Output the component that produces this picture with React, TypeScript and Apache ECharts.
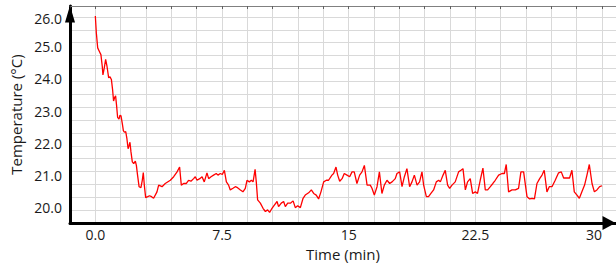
import React, { useEffect, useRef } from "react";
import * as echarts from "echarts";

const timeMin: number[] = [
  0, 0.06, 0.14, 0.24, 0.33, 0.41, 0.45, 0.53, 0.61, 0.69, 0.79, 0.87, 0.95, 1.02, 1.08, 1.14, 1.2, 1.26, 1.32, 1.4,
  1.46, 1.52, 1.6, 1.66, 1.72, 1.8, 1.87, 1.94, 2.0, 2.05, 2.11, 2.19, 2.27, 2.37, 2.43, 2.5, 2.59, 2.7, 2.78, 2.84,
  2.9, 2.98, 3.1, 3.21, 3.33, 3.45, 3.65, 3.75, 3.95, 4.14, 4.44, 4.64, 4.84, 4.99, 5.09, 5.23, 5.39, 5.52, 5.66, 5.82,
  5.92, 6.02, 6.18, 6.32, 6.45, 6.61, 6.71, 6.85, 7.0, 7.16, 7.26, 7.4, 7.52, 7.64, 7.76, 7.89, 7.99, 8.15, 8.29, 8.42,
  8.59, 8.74, 8.88, 8.98, 9.12, 9.24, 9.34, 9.46, 9.53, 9.61, 9.77, 9.93, 10.07, 10.2, 10.32, 10.46, 10.6, 10.76, 10.85, 11.01,
  11.15, 11.25, 11.39, 11.55, 11.71, 11.84, 11.98, 12.14, 12.3, 12.43, 12.63, 12.79, 12.93, 13.08, 13.22, 13.36, 13.52, 13.68, 13.81, 14.01,
  14.11, 14.25, 14.35, 14.47, 14.61, 14.74, 14.9, 15.06, 15.2, 15.33, 15.49, 15.65, 15.79, 15.93, 16.09, 16.28, 16.38, 16.52, 16.68, 16.82,
  16.97, 17.11, 17.27, 17.43, 17.57, 17.76, 17.86, 18.02, 18.16, 18.3, 18.45, 18.61, 18.75, 18.89, 19.05, 19.2, 19.34, 19.44, 19.6, 19.73,
  19.87, 20.03, 20.19, 20.33, 20.43, 20.59, 20.72, 20.86, 20.98, 21.12, 21.31, 21.51, 21.65, 21.77, 21.91, 22.04, 22.2, 22.34, 22.5, 22.63,
  22.79, 22.95, 23.09, 23.23, 23.39, 23.54, 23.68, 23.88, 24.08, 24.22, 24.33, 24.47, 24.67, 24.87, 25.06, 25.2, 25.36, 25.56, 25.72, 25.86,
  26.0, 26.15, 26.31, 26.45, 26.58, 26.74, 26.88, 27.04, 27.23, 27.43, 27.59, 27.73, 27.93, 28.08, 28.22, 28.36, 28.52, 28.66, 28.81, 28.97,
  29.11, 29.25, 29.41, 29.55, 29.7, 29.86, 30.0,
];

const temperature: number[] = [
  26.03, 25.5, 25.04, 24.93, 24.83, 24.47, 24.2, 24.42, 24.68, 24.47, 24.11, 24.14, 24.06, 23.75, 23.39, 23.5, 23.55, 23.24, 22.88, 22.83,
  22.95, 22.93, 22.68, 22.47, 22.42, 22.44, 22.22, 21.91, 22.01, 22.11, 21.81, 21.5, 21.45, 21.52, 21.39, 21.09, 20.73, 20.7, 20.93, 21.17,
  20.78, 20.39, 20.42, 20.45, 20.42, 20.37, 20.57, 20.78, 20.73, 20.83, 20.93, 21.04, 21.19, 21.34, 20.78, 20.83, 20.83, 20.93, 20.9, 20.98,
  21.04, 20.93, 20.98, 21.04, 20.88, 21.16, 20.98, 21.04, 21.09, 21.14, 21.09, 21.14, 21.11, 21.24, 20.88, 20.78, 20.63, 20.68, 20.73, 20.7,
  20.63, 20.57, 20.68, 20.93, 20.88, 20.93, 20.88, 21.27, 20.88, 20.32, 20.22, 20.06, 19.96, 20.01, 19.93, 20.06, 20.16, 20.27, 20.11, 20.22,
  20.27, 20.11, 20.22, 20.22, 20.29, 20.08, 20.14, 20.08, 20.37, 20.47, 20.54, 20.63, 20.52, 20.47, 20.35, 20.57, 20.88, 20.93, 20.93, 21.09,
  21.14, 21.34, 21.09, 20.9, 20.98, 21.14, 21.09, 21.04, 21.19, 21.19, 20.83, 21.09, 21.19, 21.39, 20.78, 20.78, 20.68, 20.47, 20.73, 21.19,
  20.52, 20.78, 20.93, 20.83, 20.88, 20.98, 21.14, 21.19, 20.73, 21.04, 21.29, 20.73, 20.88, 21.09, 20.78, 20.88, 21.19, 20.78, 20.42, 20.42,
  20.52, 20.63, 20.88, 20.93, 20.88, 21.09, 21.24, 20.78, 20.68, 20.78, 20.88, 21.19, 21.24, 21.29, 20.63, 20.88, 20.98, 20.52, 20.57, 20.52,
  20.93, 21.31, 20.63, 20.63, 20.73, 20.83, 20.93, 21.09, 21.14, 21.14, 21.42, 20.57, 20.63, 20.63, 20.68, 21.19, 21.19, 20.42, 20.35, 20.37,
  20.35, 20.83, 20.98, 21.09, 21.24, 20.57, 20.73, 20.73, 20.93, 21.16, 21.19, 21.0, 21.0, 21.0, 21.24, 20.57, 20.47, 20.37, 20.57, 20.78,
  21.09, 21.42, 20.83, 20.57, 20.63, 20.73, 20.76,
];

const yLabelValues: number[] = [20, 21, 22, 23, 24, 25, 26];
const xLabelValues: number[] = [0, 7.5, 15, 22.5, 30];
const xLabelTexts: string[] = ["0.0", "7.5", "15", "22.5", "30"];

const FONT = "'Open Sans', 'Noto Sans', sans-serif";
const TEXT_COLOR = "#1a1a1a";

export default function App() {
  const ref = useRef<HTMLDivElement>(null);

  useEffect(() => {
    if (!ref.current) return;
    const chart = echarts.init(ref.current, undefined, { renderer: "svg" });
    const seriesData = timeMin.map((t, i) => [t, temperature[i]]);
    const xMin = -1.5;
    const xMax = 30.83;
    const yMin = 19.6;
    const yMax = 26.34;

    chart.setOption({
      animation: false,
      backgroundColor: "#ffffff",
      grid: { left: 70, right: 0, top: 6, bottom: 41, containLabel: false },
      xAxis: [
        {
          type: "value",
          position: "bottom",
          min: xMin,
          max: xMax,
          interval: 1.5,
          name: "Time (min)",
          nameLocation: "middle",
          nameGap: 13,
          nameTextStyle: { fontFamily: FONT, fontSize: 15, color: TEXT_COLOR },
          axisLine: {
            show: true,
            onZero: false,
            symbol: ["none", "triangle"],
            symbolSize: [14, 13],
            symbolOffset: [0, -7],
            lineStyle: { color: "#000000", width: 3 },
          },
          axisTick: { show: false },
          axisLabel: {
            show: true,
            customValues: xLabelValues,
            margin: 4,
            fontFamily: FONT,
            fontSize: 14,
            color: TEXT_COLOR,
            formatter: (v: number) => {
              const idx = xLabelValues.findIndex((x) => Math.abs(x - v) < 1e-6);
              const txt = idx >= 0 ? xLabelTexts[idx] : "";
              if (Math.abs(v - 30) < 1e-6) return `{r|${txt}}`;
              return txt;
            },
            rich: {
              r: { fontFamily: FONT, fontSize: 14, color: TEXT_COLOR, padding: [0, 16, 0, 0] },
            },
          },
          splitLine: { show: true, lineStyle: { color: "#d9d9d9", width: 1 } },
        },
        {
          type: "value",
          position: "top",
          min: xMin,
          max: xMax,
          interval: 1.5,
          axisLine: { show: true, onZero: false, lineStyle: { color: "#808080", width: 1 } },
          axisTick: { show: true, inside: true, length: 3, lineStyle: { color: "#606060", width: 1 } },
          axisLabel: { show: false },
          splitLine: { show: false },
        },
      ],
      yAxis: {
        type: "value",
        min: yMin,
        max: yMax,
        interval: 0.4,
        name: "Temperature (°C)",
        nameLocation: "middle",
        nameGap: 40,
        nameTextStyle: { fontFamily: FONT, fontSize: 15, color: TEXT_COLOR },
        axisLine: {
          show: true,
          onZero: false,
          symbol: ["none", "triangle"],
          symbolSize: [10, 17],
          symbolOffset: [0, -8],
          lineStyle: { color: "#000000", width: 3 },
        },
        axisTick: { show: false },
        axisLabel: {
          show: true,
          customValues: yLabelValues,
          margin: 8,
          fontFamily: FONT,
          fontSize: 14,
          color: TEXT_COLOR,
          formatter: (v: number) =>
            Math.abs(v - 26) < 1e-6 ? `{b|${v.toFixed(1)}}` : `{a|${v.toFixed(1)}}`,
          rich: {
            a: { fontFamily: FONT, fontSize: 14, color: TEXT_COLOR, padding: [0, 0, 5, 0] },
            b: { fontFamily: FONT, fontSize: 14, color: TEXT_COLOR, padding: [4, 0, 0, 0] },
          },
        },
        splitLine: { show: true, lineStyle: { color: "#d9d9d9", width: 1 } },
      },
      series: [
        {
          type: "line",
          data: seriesData,
          xAxisIndex: 0,
          showSymbol: false,
          symbol: "none",
          lineStyle: { color: "#ff0000", width: 1.3 },
          z: 3,
        },
      ],
    });

    return () => {
      chart.dispose();
    };
  }, []);

  return (
    <div
      ref={ref}
      style={{ position: "fixed", left: 0, top: 0, width: 616, height: 266, background: "#ffffff" }}
    />
  );
}
